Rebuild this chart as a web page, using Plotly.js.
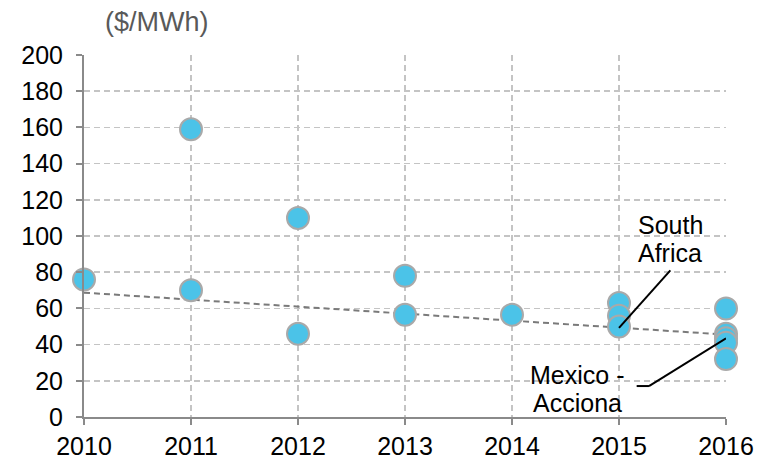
<!DOCTYPE html>
<html>
<head>
<meta charset="utf-8">
<script src="https://cdn.plot.ly/plotly-3.0.1.min.js"></script>
<style>html,body{margin:0;padding:0;background:#fff}#chart{width:765px;height:461px}</style>
</head>
<body>
<div id="chart"></div>
<script>
// Auction prices ($/MWh) by year
const years = [2010, 2011, 2011, 2012, 2012, 2013, 2013, 2014, 2015, 2015, 2015, 2016, 2016, 2016, 2016, 2016];
const prices = [76, 159, 70, 110, 46, 78, 56.5, 56.5, 63, 56, 50, 60, 46, 43.5, 41, 32];
const trendYears = [2010, 2016];
const trendPrices = [68.7, 45.5];
const xTicks = [2010, 2011, 2012, 2013, 2014, 2015, 2016];
const yTicks = [0, 20, 40, 60, 80, 100, 120, 140, 160, 180, 200];

const font = "Liberation Sans, Arial, sans-serif";
const fs = 25;

const traces = [
  {
    x: trendYears, y: trendPrices, type: 'scatter', mode: 'lines',
    line: {color: '#7a7a7a', width: 2, dash: '6px,4px'},
    hoverinfo: 'skip', cliponaxis: false
  },
  {
    x: years, y: prices, type: 'scatter', mode: 'markers',
    marker: {size: 22, color: '#4BC3E8', line: {color: '#A9A9A9', width: 2}},
    cliponaxis: false
  }
];

const layout = {
  width: 765, height: 461,
  margin: {l: 84, r: 39, t: 55, b: 44.3},
  paper_bgcolor: '#ffffff', plot_bgcolor: '#ffffff',
  showlegend: false,
  font: {family: font, size: fs, color: '#000'},
  xaxis: {
    range: [2010, 2016], tickvals: xTicks, ticktext: xTicks.map(String),
    showline: true, linecolor: '#8a8a8a', linewidth: 2,
    ticks: 'outside', ticklen: 6, tickcolor: '#8a8a8a', tickwidth: 2,
    showgrid: true, gridcolor: '#c4c4c4', gridwidth: 1.5, griddash: '6px,4px',
    zeroline: false, tickfont: {family: font, size: fs, color: '#000'},
    fixedrange: true
  },
  yaxis: {
    range: [0, 200], tickvals: yTicks, ticktext: yTicks.map(String),
    showline: true, linecolor: '#8a8a8a', linewidth: 2,
    ticks: 'outside', ticklen: 6, tickcolor: '#8a8a8a', tickwidth: 2,
    showgrid: true, gridcolor: '#c4c4c4', gridwidth: 1.5, griddash: '6px,4px',
    zeroline: false, tickfont: {family: font, size: fs, color: '#000'},
    ticklabelstandoff: 8,
    fixedrange: true
  },
  shapes: [
    {type: 'line', xref: 'x', yref: 'y', x0: 2015.48, y0: 81, x1: 2015.0, y1: 49.2,
     line: {color: '#000', width: 2}},
    {type: 'line', xref: 'x', yref: 'y', x0: 2015.165, y0: 17.1, x1: 2015.28, y1: 17.1,
     line: {color: '#000', width: 2}},
    {type: 'line', xref: 'x', yref: 'y', x0: 2015.28, y0: 17.1, x1: 2016.0, y1: 43.5,
     line: {color: '#000', width: 2}}
  ],
  annotations: [
    {text: '($/MWh)', xref: 'paper', yref: 'paper', x: 0.1137, y: 1.091,
     xanchor: 'center', yanchor: 'middle', showarrow: false,
     font: {family: font, size: 27, color: '#595959'}},
    {text: 'South', xref: 'x', yref: 'y', x: 2015.48, y: 105.9,
     xanchor: 'center', yanchor: 'middle', showarrow: false,
     font: {family: font, size: fs, color: '#000'}},
    {text: 'Africa', xref: 'x', yref: 'y', x: 2015.48, y: 90.4,
     xanchor: 'center', yanchor: 'middle', showarrow: false,
     font: {family: font, size: fs, color: '#000'}},
    {text: 'Mexico -', xref: 'x', yref: 'y', x: 2015.07, y: 23.0,
     xanchor: 'right', yanchor: 'middle', showarrow: false,
     font: {family: font, size: fs, color: '#000'}},
    {text: 'Acciona', xref: 'x', yref: 'y', x: 2015.05, y: 7.6,
     xanchor: 'right', yanchor: 'middle', showarrow: false,
     font: {family: font, size: fs, color: '#000'}}
  ]
};

Plotly.newPlot('chart', traces, layout, {displayModeBar: false, staticPlot: true});
</script>
</body>
</html>
